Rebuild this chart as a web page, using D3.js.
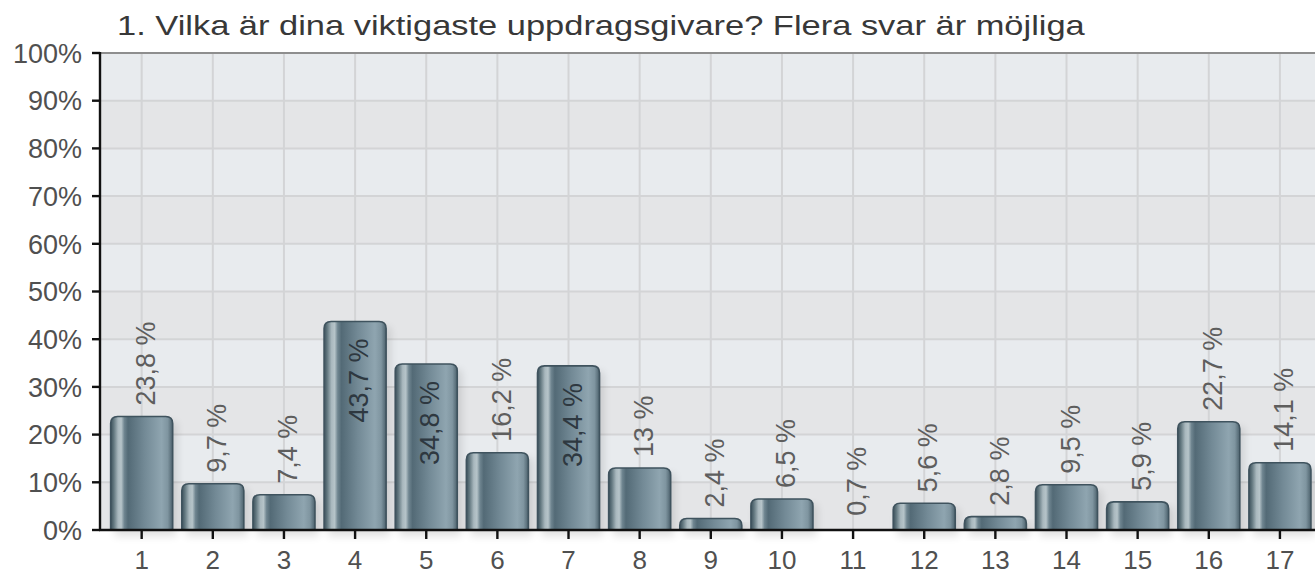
<!DOCTYPE html>
<html>
<head>
<meta charset="utf-8">
<script src="https://cdn.jsdelivr.net/npm/d3@7"></script>
<style>
  html, body { margin: 0; padding: 0; background: #ffffff; }
  svg { display: block; }
</style>
</head>
<body>
<svg id="chart" width="1315" height="575"></svg>
<script>
// ---- data ----
const title = "1. Vilka är dina viktigaste uppdragsgivare? Flera svar är möjliga";
const categories = ["1","2","3","4","5","6","7","8","9","10","11","12","13","14","15","16","17"];
const values = [23.8, 9.7, 7.4, 43.7, 34.8, 16.2, 34.4, 13, 2.4, 6.5, 0.7, 5.6, 2.8, 9.5, 5.9, 22.7, 14.1];
const valueLabels = ["23,8 %","9,7 %","7,4 %","43,7 %","34,8 %","16,2 %","34,4 %","13 %","2,4 %","6,5 %","0,7 %","5,6 %","2,8 %","9,5 %","5,9 %","22,7 %","14,1 %"];
const yTicks = [0,10,20,30,40,50,60,70,80,90,100];
const yTickLabels = ["0%","10%","20%","30%","40%","50%","60%","70%","80%","90%","100%"];

// ---- layout ----
const W = 1315, H = 575;
const plotLeft = 100, plotRight = 1315, plotTop = 53, plotBottom = 530;
const insideThreshold = 30;
const font = "'Liberation Sans', Arial, Helvetica, sans-serif";

const svg = d3.select("#chart");
const defs = svg.append("defs");

const x = d3.scaleBand()
  .domain(categories)
  .range([106.1, 1315.5])
  .paddingInner(0.128)
  .paddingOuter(0.064);

const y = d3.scaleLinear().domain([0, 100]).range([plotBottom, plotTop]);

// gradient for bars
const grad = defs.append("linearGradient").attr("id", "barGrad")
  .attr("x1", 0).attr("x2", 1).attr("y1", 0).attr("y2", 0);
[
  [0.00, "#3c505b"],
  [0.05, "#62777f"],
  [0.12, "#a9b8be"],
  [0.17, "#b6c4c9"],
  [0.22, "#6f8590"],
  [0.28, "#536a76"],
  [0.55, "#738a96"],
  [0.82, "#8fa5b0"],
  [0.92, "#7f95a0"],
  [1.00, "#4c616c"]
].forEach(([o, c]) => grad.append("stop").attr("offset", o).attr("stop-color", c));

const shadow = defs.append("filter").attr("id", "shadow")
  .attr("x", "-20%").attr("y", "-20%").attr("width", "150%").attr("height", "150%");
shadow.append("feGaussianBlur").attr("stdDeviation", 4);

// plot background with alternating bands
const bg = svg.append("g");
bg.append("rect").attr("x", plotLeft).attr("y", plotTop)
  .attr("width", plotRight - plotLeft).attr("height", plotBottom - plotTop)
  .attr("fill", "#e4e5e7");
bg.selectAll("rect.band").data(yTicks.slice(0, -1).filter((d, i) => i % 2 === 1))
  .join("rect").attr("class", "band")
  .attr("x", plotLeft).attr("width", plotRight - plotLeft)
  .attr("y", d => y(d + 10)).attr("height", d => y(d) - y(d + 10))
  .attr("fill", "#e8ebee");

// gridlines
const grid = svg.append("g");
grid.selectAll("line.h").data(yTicks.filter(d => d > 0 && d < 100)).join("line")
  .attr("x1", plotLeft).attr("x2", plotRight)
  .attr("y1", d => y(d)).attr("y2", d => y(d))
  .attr("stroke", "#d3d4d6").attr("stroke-width", 2);
grid.selectAll("line.v").data(categories).join("line")
  .attr("x1", d => x(d) + x.bandwidth() / 2).attr("x2", d => x(d) + x.bandwidth() / 2)
  .attr("y1", plotTop).attr("y2", plotBottom)
  .attr("stroke", "#d3d4d6").attr("stroke-width", 2);

// top border
svg.append("line").attr("x1", plotLeft).attr("x2", plotRight)
  .attr("y1", plotTop).attr("y2", plotTop)
  .attr("stroke", "#8e8e8e").attr("stroke-width", 2);

// bars
const data = categories.map((c, i) => ({ c, v: values[i], label: valueLabels[i] }));
const visible = data.filter(d => (y(0) - y(d.v)) > 4);
const r = 7;
function barPath(d) {
  const x0 = x(d.c), w = x.bandwidth(), top = y(d.v), bot = y(0);
  const rr = Math.min(r, (bot - top), w / 2);
  return `M${x0},${bot} L${x0},${top + rr} Q${x0},${top} ${x0 + rr},${top} L${x0 + w - rr},${top} Q${x0 + w},${top} ${x0 + w},${top + rr} L${x0 + w},${bot} Z`;
}
svg.append("g").selectAll("rect").data(visible).join("rect")
  .attr("x", d => x(d.c) + 4).attr("width", x.bandwidth())
  .attr("y", d => y(d.v) + 6).attr("height", d => y(0) - y(d.v))
  .attr("fill", "#000").attr("opacity", 0.12).attr("filter", "url(#shadow)");
svg.append("g").selectAll("path").data(visible).join("path")
  .attr("d", barPath)
  .attr("fill", "url(#barGrad)")
  .attr("stroke", "#3f535e").attr("stroke-width", 1.6);

// axes
const yAxis = svg.append("g");
yAxis.append("line").attr("x1", plotLeft).attr("x2", plotLeft)
  .attr("y1", plotTop - 1).attr("y2", plotBottom + 1)
  .attr("stroke", "#111").attr("stroke-width", 2.4);
yAxis.selectAll("line.tick").data(yTicks).join("line")
  .attr("x1", plotLeft - 8).attr("x2", plotLeft)
  .attr("y1", d => y(d)).attr("y2", d => y(d))
  .attr("stroke", "#111").attr("stroke-width", 2.4);
yAxis.selectAll("text").data(yTicks).join("text")
  .attr("x", 82).attr("y", d => y(d)).attr("dy", "0.36em")
  .attr("text-anchor", "end")
  .attr("font-family", font).attr("font-size", 27)
  .attr("fill", "#505050")
  .text((d, i) => yTickLabels[i]);

const xAxis = svg.append("g");
xAxis.append("line").attr("x1", plotLeft - 1).attr("x2", plotRight)
  .attr("y1", plotBottom).attr("y2", plotBottom)
  .attr("stroke", "#111").attr("stroke-width", 2.4);
xAxis.selectAll("line.tick").data(categories).join("line")
  .attr("x1", d => x(d) + x.bandwidth() / 2).attr("x2", d => x(d) + x.bandwidth() / 2)
  .attr("y1", plotBottom).attr("y2", plotBottom + 9)
  .attr("stroke", "#111").attr("stroke-width", 2.4);
xAxis.selectAll("text").data(categories).join("text")
  .attr("x", d => x(d) + x.bandwidth() / 2).attr("y", 569)
  .attr("text-anchor", "middle")
  .attr("font-family", font).attr("font-size", 26)
  .attr("fill", "#505050")
  .text(d => d);

// value labels
svg.append("g").selectAll("text").data(data).join("text")
  .attr("transform", d => {
    const cx = x(d.c) + x.bandwidth() / 2 + 3.5;
    const inside = d.v > insideThreshold;
    const yy = inside ? y(d.v) + 17 : y(d.v) - 11;
    return `translate(${cx},${yy}) rotate(-90)`;
  })
  .attr("text-anchor", d => d.v > insideThreshold ? "end" : "start")
  .attr("dy", "0.36em")
  .attr("font-family", font).attr("font-size", 27)
  .attr("fill", d => d.v > insideThreshold ? "#2e3840" : "#5e5e5e")
  .text(d => d.label);

// title (horizontally stretched, as in the reference)
const titleTargetWidth = 968;
const titleNode = svg.append("text")
  .attr("font-family", font).attr("font-size", 27.5)
  .attr("fill", "#383838")
  .text(title);
const tl = titleNode.node().getComputedTextLength();
const sx = titleTargetWidth / tl;
titleNode.attr("transform", `translate(117,35) scale(${sx},1)`);
</script>
</body>
</html>
